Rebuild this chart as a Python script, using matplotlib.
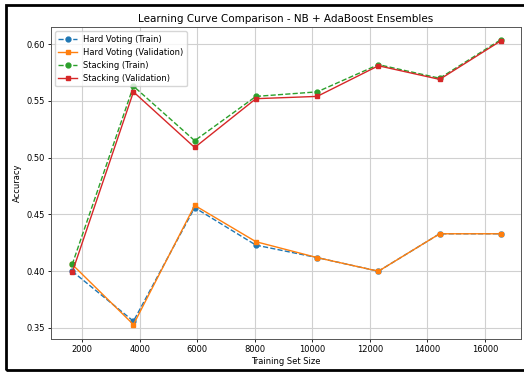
import matplotlib
matplotlib.use("Agg")
import matplotlib.pyplot as plt
from matplotlib.patches import Rectangle

train_sizes = [1656, 3785, 5914, 8043, 10172, 12301, 14430, 16560]
hard_train = [0.400, 0.356, 0.456, 0.423, 0.412, 0.400, 0.433, 0.433]
hard_val = [0.406, 0.353, 0.458, 0.426, 0.412, 0.400, 0.433, 0.433]
stack_train = [0.406, 0.563, 0.515, 0.554, 0.558, 0.582, 0.570, 0.604]
stack_val = [0.399, 0.558, 0.509, 0.552, 0.554, 0.581, 0.569, 0.603]

fig = plt.figure(figsize=(5.24, 3.72), dpi=100)
ax = fig.add_axes([0.0973, 0.0887, 0.8967, 0.8383])

ms = 3.5
lw = 1.0
ax.plot(train_sizes, hard_train, 'o--', color='#1f77b4', lw=lw, ms=ms, label='Hard Voting (Train)')
ax.plot(train_sizes, hard_val, 's-', color='#ff7f0e', lw=lw, ms=ms, label='Hard Voting (Validation)')
ax.plot(train_sizes, stack_train, 'o--', color='#2ca02c', lw=lw, ms=ms, label='Stacking (Train)')
ax.plot(train_sizes, stack_val, 's-', color='#d62728', lw=lw, ms=ms, label='Stacking (Validation)')

ax.set_xlim(918, 17253)
ax.set_ylim(0.3403, 0.615)
ax.set_xticks([2000, 4000, 6000, 8000, 10000, 12000, 14000, 16000])
ax.set_yticks([0.35, 0.40, 0.45, 0.50, 0.55, 0.60])
ax.tick_params(labelsize=6, length=2.5, width=0.6, pad=2)
ax.grid(True, color='#d0d0d0', lw=0.8)
ax.set_title('Learning Curve Comparison - NB + AdaBoost Ensembles', fontsize=7.5, pad=4)
ax.set_xlabel('Training Set Size', fontsize=6, labelpad=2)
ax.set_ylabel('Accuracy', fontsize=6, labelpad=3)
for s in ax.spines.values():
    s.set_linewidth(0.7)
    s.set_color('#555555')
ax.legend(loc='upper left', fontsize=6, framealpha=0.8, handlelength=2.2)

# black frame of the screenshot
fig.add_artist(Rectangle((6 / 524, 2 / 372), 1.2, 365 / 372, transform=fig.transFigure,
                         fill=False, edgecolor='black', lw=2))

fig.savefig('out.png', dpi=100)
